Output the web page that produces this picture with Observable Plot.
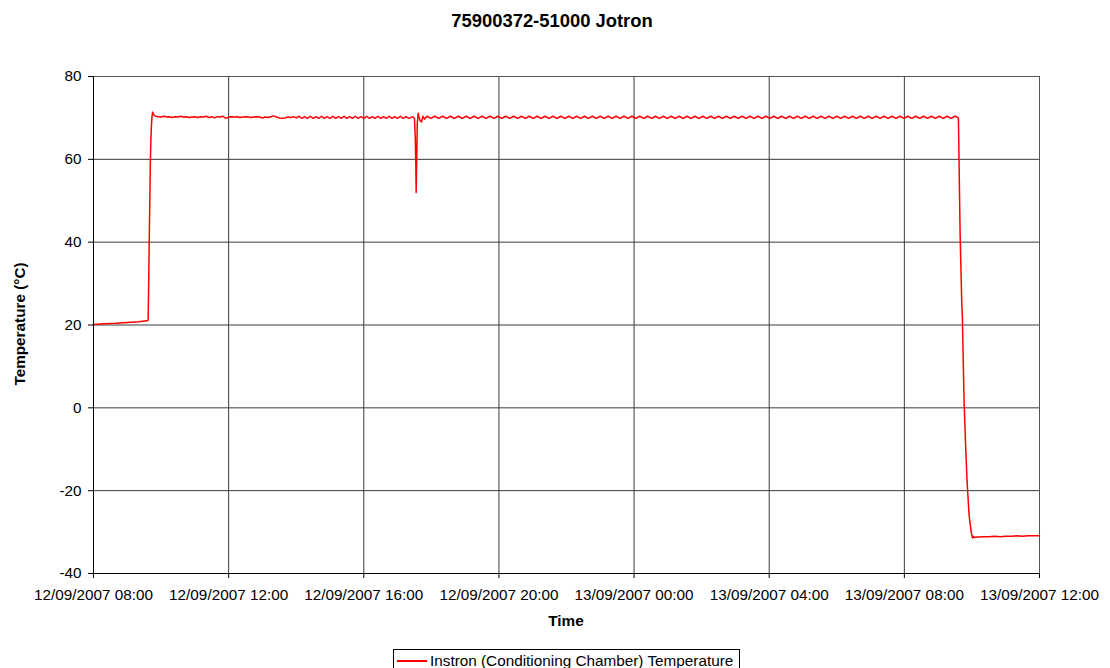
<!DOCTYPE html>
<html>
<head>
<meta charset="utf-8">
<script src="https://cdn.jsdelivr.net/npm/d3@7"></script>
<script src="https://cdn.jsdelivr.net/npm/@observablehq/plot@0.6"></script>
<style>
  html, body { margin: 0; padding: 0; background: #fff; }
  #wrap { position: relative; width: 1110px; height: 668px; overflow: hidden; font-family: "Liberation Sans", Arial, sans-serif; color: #000; }
  #chart { position: absolute; left: 0; top: 0; }
  .title { position: absolute; left: 352px; width: 400px; top: 10px; text-align: center; font-weight: bold; font-size: 18.4px; }
  .xlabel { position: absolute; left: 466px; width: 200px; top: 612px; text-align: center; font-weight: bold; font-size: 15.3px; }
  .ylabel { position: absolute; left: -80px; width: 200px; top: 315px; text-align: center; font-weight: bold; font-size: 15.3px; transform: rotate(-90deg); }
  .legend { position: absolute; left: 393px; top: 649px; width: 347px; height: 24px; border: 1px solid #000; box-sizing: border-box; background: #fff; }
  .legend .sw { position: absolute; left: 3px; top: 10px; width: 30px; height: 2px; background: #ff0000; }
  .legend .tx { position: absolute; left: 36px; top: 2px; font-size: 15.3px; white-space: nowrap; }
</style>
</head>
<body>
<div id="wrap">
  <div id="chart"></div>
  <div class="title" id="title"></div>
  <div class="xlabel" id="xlabel"></div>
  <div class="ylabel" id="ylabel"></div>
  <div class="legend"><div class="sw"></div><div class="tx" id="legtext"></div></div>
</div>
<script>
// ---- Text ----
const chartTitle = "75900372-51000 Jotron";
const xTitle = "Time";
const yTitle = "Temperature (°C)";
const seriesName = "Instron (Conditioning Chamber) Temperature";

// ---- Axis ----
const xStart = "2007-09-12T08:00Z";
const xEnd = "2007-09-13T12:00Z";
const xTicks = ["2007-09-12T08:00Z", "2007-09-12T12:00Z", "2007-09-12T16:00Z", "2007-09-12T20:00Z",
                "2007-09-13T00:00Z", "2007-09-13T04:00Z", "2007-09-13T08:00Z", "2007-09-13T12:00Z"];
const yTicks = [-40, -20, 0, 20, 40, 60, 80];

// ---- Data (minutes after 12/09/2007 08:00, temperature °C) ----
// warm-up and ramp to 70 °C
const rampUpMinutes = [0, 20, 40, 60, 80, 95, 97, 98, 99, 100, 101, 102, 103, 104, 105, 106, 108, 110];
const rampUpTemps   = [20.1, 20.3, 20.4, 20.6, 20.8, 21.0, 21.2, 30.0, 40.4, 50.0, 59.7, 65.0, 68.5, 70.5, 71.4, 71.0, 70.6, 70.4];

// first plateau, sampled every 5 minutes from minute 115
const plateau1Start = 115, plateau1Step = 5;
const plateau1Temps = [
  70.3, 70.2, 70.4, 70.2, 70.3, 70.1, 70.3, 70.2, 70.4, 70.2,
  70.3, 70.1, 70.2, 70.3, 70.1, 70.3, 70.2, 70.4, 70.1, 70.3,
  70.0, 70.3, 70.2, 70.4, 69.9, 70.2, 70.3, 70.2, 70.3, 70.1,
  70.2, 70.3, 70.2, 70.1, 70.2, 70.3, 70.2, 70.0, 70.2, 70.1,
  70.3, 70.5, 70.2, 70.0, 69.9, 70.0, 70.2, 70.1, 70.3, 70.0,
  70.4, 69.9, 70.3, 69.9, 70.4, 69.9, 70.3, 69.9, 70.4, 69.9,
  70.3, 69.9, 70.4, 69.9, 70.3, 69.9, 70.4, 69.9, 70.3, 69.9,
  70.4, 69.9, 70.3, 69.9, 70.4, 69.9, 70.3, 69.9, 70.4, 69.9,
  70.3, 69.9, 70.4, 69.9, 70.3, 69.9, 70.4, 69.9, 70.3, 69.9
];

// door-opening dip around 17:33
const dipMinutes = [567, 570, 571.5, 572.5, 573, 574, 575, 576.5, 578, 580, 582.5, 585, 588];
const dipTemps   = [70.3, 69.9, 65.0, 58.0, 52.0, 60.0, 68.5, 71.1, 70.3, 69.4, 69.0, 70.4, 69.7];

// second plateau, sampled every 7 minutes from minute 592
const plateau2Start = 592, plateau2Step = 7;
const plateau2Temps = [
  70.4, 69.9, 70.4, 69.9, 70.4, 69.9, 70.4, 69.9, 70.4, 69.9,
  70.4, 69.9, 70.4, 69.9, 70.4, 69.9, 70.4, 69.9, 70.4, 69.9,
  70.4, 69.9, 70.4, 69.9, 70.4, 69.9, 70.4, 69.9, 70.4, 69.9,
  70.4, 69.9, 70.4, 69.9, 70.4, 69.9, 70.4, 69.9, 70.4, 69.9,
  70.4, 69.9, 70.4, 69.9, 70.4, 69.9, 70.4, 69.9, 70.4, 69.9,
  70.4, 69.9, 70.4, 69.9, 70.4, 69.9, 70.4, 69.9, 70.4, 69.9,
  70.4, 69.9, 70.4, 69.9, 70.4, 69.9, 70.4, 69.9, 70.4, 69.9,
  70.4, 69.9, 70.4, 69.9, 70.4, 69.9, 70.4, 69.9, 70.4, 69.9,
  70.4, 69.9, 70.4, 69.9, 70.4, 69.9, 70.4, 69.9, 70.4, 69.9,
  70.4, 69.9, 70.4, 69.9, 70.4, 69.9, 70.4, 69.9, 70.4, 69.9,
  70.4, 69.9, 70.4, 69.9, 70.4, 69.9, 70.4, 69.9, 70.4, 69.9,
  70.4, 69.9, 70.4, 69.9, 70.4, 69.9, 70.4, 69.9, 70.4, 69.9,
  70.4, 69.9, 70.4, 69.9, 70.4, 69.9, 70.4, 69.9, 70.4, 69.9,
  70.4, 69.9, 70.4, 69.9, 70.4
];

// ramp down to -31 °C
const rampDownMinutes = [1534, 1536, 1539, 1542, 1543, 1546, 1549, 1551.6, 1555, 1559, 1561, 1562.5, 1564];
const rampDownTemps   = [70.2, 69.9, 42.1, 25.0, 21.9, 1.8, -10.0, -18.3, -26.0, -30.3, -31.4, -31.0, -31.3];

// cold plateau, sampled every 10 minutes from minute 1570
const coldStart = 1570, coldStep = 10;
const coldTemps = [-31.2, -31.1, -31.1, -31.0, -31.1, -31.0, -31.0, -30.9, -31.0, -30.9, -30.9, -30.9];

// ---- Build table ----
const t0 = Date.parse(xStart);
const toDate = m => new Date(t0 + m * 60000);
const rows = [];
rampUpMinutes.forEach((m, i) => rows.push({t: toDate(m), v: rampUpTemps[i]}));
plateau1Temps.forEach((v, i) => rows.push({t: toDate(plateau1Start + i * plateau1Step), v}));
dipMinutes.forEach((m, i) => rows.push({t: toDate(m), v: dipTemps[i]}));
plateau2Temps.forEach((v, i) => rows.push({t: toDate(plateau2Start + i * plateau2Step), v}));
rampDownMinutes.forEach((m, i) => rows.push({t: toDate(m), v: rampDownTemps[i]}));
coldTemps.forEach((v, i) => rows.push({t: toDate(coldStart + i * coldStep), v}));
rows.sort((a, b) => a.t - b.t);

const fmt = d3.utcFormat("%d/%m/%Y %H:%M");
const tickDates = xTicks.map(s => new Date(s));

const chart = Plot.plot({
  width: 1110,
  height: 640,
  marginTop: 76,
  marginLeft: 93,
  marginRight: 71,
  marginBottom: 67,
  style: { fontFamily: "'Liberation Sans', Arial, sans-serif", fontSize: "15.3px", color: "#000", background: "#fff", overflow: "visible" },
  x: { type: "utc", domain: [new Date(xStart), new Date(xEnd)], label: null },
  y: { domain: [-40, 80], label: null },
  marks: [
    Plot.gridX(tickDates, { stroke: "#3a3a3a", strokeOpacity: 1 }),
    Plot.gridY(yTicks, { stroke: "#3a3a3a", strokeOpacity: 1 }),
    Plot.frame({ stroke: "#555" }),
    Plot.line(rows, { x: "t", y: "v", stroke: "#ff0000", strokeWidth: 1.5, curve: "linear" }),
    Plot.axisX(tickDates, { tickFormat: fmt, tickSize: 5, tickPadding: 11, stroke: "#000", fontSize: 15.3 }),
    Plot.axisY(yTicks, { tickFormat: d => String(d), tickSize: 5, tickPadding: 7, stroke: "#000", fontSize: 15.3 }),
    Plot.ruleX([new Date(xStart)], { stroke: "#000" }),
    Plot.ruleY([-40], { stroke: "#000" })
  ]
});
document.getElementById("chart").appendChild(chart);
document.getElementById("title").textContent = chartTitle;
document.getElementById("xlabel").textContent = xTitle;
document.getElementById("ylabel").textContent = yTitle;
document.getElementById("legtext").textContent = seriesName;
</script>
</body>
</html>
